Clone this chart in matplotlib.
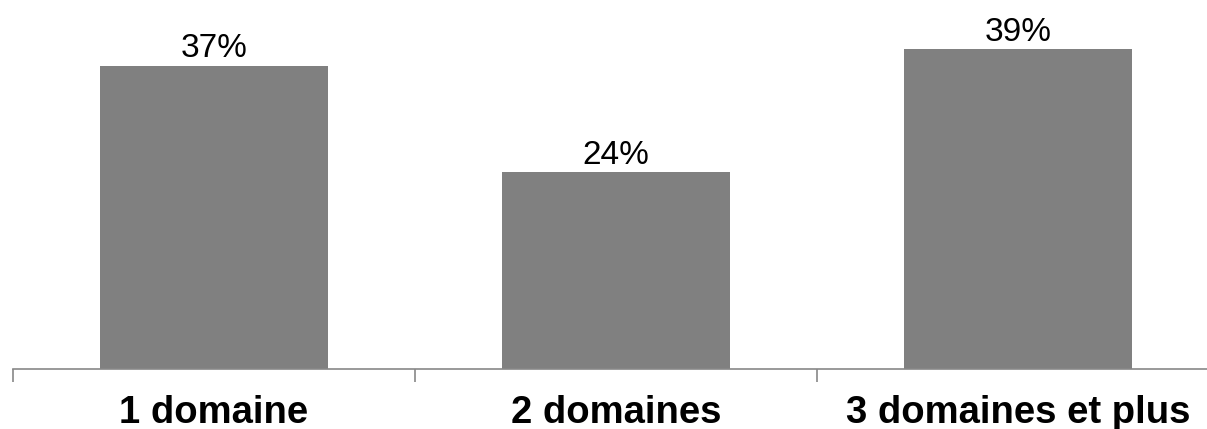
import numpy as np
import matplotlib.pyplot as plt

categories = ['1 domaine', '2 domaines', '3 domaines et plus']
values = [37, 24, 39]
labels = ['37%', '24%', '39%']

fig = plt.figure(figsize=(12.07, 4.29), dpi=100)
ax = fig.add_axes([13 / 1207, 60 / 429, 1206 / 1207, 328 / 429])

x = np.arange(len(categories))
ax.bar(x, values, width=0.567, color='#808080')
for xi, v, lab in zip(x, values, labels):
    ax.annotate(lab, (xi, v), xytext=(0, 1), textcoords='offset points',
                ha='center', va='bottom', fontsize=24, family='Liberation Sans')

ax.set_xlim(-0.5, 2.5)
ax.set_ylim(0, 40)
ax.set_xticks([-0.5, 0.5, 1.5, 2.5])
ax.set_xticklabels([])
ax.set_xticks(x, minor=True)
ax.set_xticklabels(categories, minor=True, fontsize=27.5, fontweight='bold',
                   family='Liberation Sans')
ax.tick_params(axis='x', which='major', length=9, width=1.2, color='#888888', direction='out')
ax.tick_params(axis='x', which='minor', length=0, pad=19)
ax.set_yticks([])
for s in ['top', 'right', 'left']:
    ax.spines[s].set_visible(False)
ax.spines['bottom'].set_color('#888888')
ax.spines['bottom'].set_linewidth(1.2)

fig.savefig('out.png', dpi=100)
